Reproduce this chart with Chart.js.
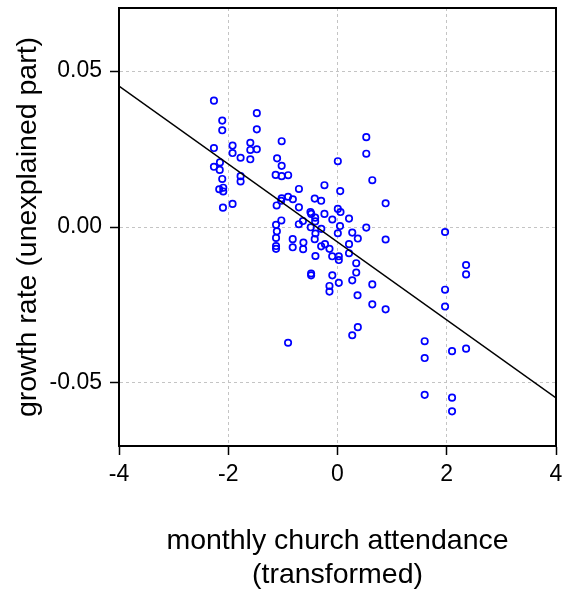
<!DOCTYPE html>
<html>
<head>
<meta charset="utf-8">
<script src="https://cdn.jsdelivr.net/npm/chart.js@4/dist/chart.umd.min.js"></script>
<style>
  html, body { margin: 0; padding: 0; background: #ffffff; }
  #wrap { width: 565px; height: 596px; position: relative; }
</style>
</head>
<body>
<div id="wrap"><canvas id="scatterChart"></canvas></div>
<script>

/*=========================================
DATA
=========================================*/

const attendance = [
  -2.262, -2.110, -2.110, -1.477, -1.477, -2.262, -1.921, -1.921, -1.596, -1.596,
  -1.477, -1.596, -1.774, -1.022, -1.106, -1.022, -2.152, -2.262, -2.156, -2.110,
  -1.774, -1.774, -1.132, -1.022, -0.903, -2.165, -2.092, -2.092, -2.097, -1.921,
  -0.706, -0.905, -0.817, -1.022, -1.031, -1.114, -0.706, -1.028,
  0.006, 0.527, 0.527, 0.637, -0.239, 0.050, -0.417, -0.299, 0.881, -0.495,
  -0.481, -0.239, 0.006, 0.055, -0.409, -0.409, -0.633, -0.708, -0.095, 0.211,
  -1.125, -1.110, 0.046, -0.490, -0.297, -0.404, 0.006, 0.527, 0.270, -1.125,
  -0.820, -0.417, -0.624, 0.372, 0.881, -1.125, -1.125, -0.820, -0.629, -0.299,
  -0.229, -0.147, 0.211, -0.404, -0.097, 0.024, 0.024, 0.211, 0.343, 0.343,
  -0.483, -0.483, -0.095, 0.270, 0.637, 0.024, -0.147, -0.147, 0.367, 0.637,
  0.881, 0.372, 0.270, -0.905,
  1.969, 2.354, 2.354, 1.969, 1.969, 1.596, 1.596, 2.097, 2.354, 1.596,
  2.097, 2.097
];

const growthRate = [
  0.0405, 0.0341, 0.0310, 0.0365, 0.0313, 0.0253, 0.0261, 0.0237, 0.0270, 0.0247,
  0.0249, 0.0217, 0.0222, 0.0275, 0.0220, 0.0196, 0.0207, 0.0193, 0.0183, 0.0154,
  0.0163, 0.0146, 0.0167, 0.0163, 0.0166, 0.0121, 0.0126, 0.0114, 0.0062, 0.0074,
  0.0122, 0.0097, 0.0089, 0.0092, 0.0084, 0.0069, 0.0063, 0.0021,
  0.0211, 0.0288, 0.0235, 0.0150, 0.0134, 0.0115, 0.0091, 0.0084, 0.0076, 0.0048,
  0.0042, 0.0042, 0.0058, 0.0048, 0.0030, 0.0018, 0.0019, 0.0009, 0.0024, 0.0027,
  0.0007, -0.0014, 0.0003, -0.0001, -0.0006, -0.0021, -0.0020, -0.0002, -0.0018, -0.0035,
  -0.0039, -0.0039, -0.0050, -0.0037, -0.0040, -0.0061, -0.0070, -0.0065, -0.0071, -0.0062,
  -0.0055, -0.0070, -0.0055, -0.0093, -0.0094, -0.0094, -0.0106, -0.0084, -0.0116, -0.0146,
  -0.0149, -0.0155, -0.0155, -0.0171, -0.0184, -0.0179, -0.0189, -0.0207, -0.0219, -0.0248,
  -0.0264, -0.0321, -0.0347, -0.0371,
  -0.0016, -0.0122, -0.0152, -0.0201, -0.0255, -0.0366, -0.0420, -0.0398, -0.0390, -0.0538,
  -0.0547, -0.0591
];

// fitted line, end points at the x axis limits
const fitX = [-4, 4];
const fitY = [0.0452, -0.0548];

const yTicks = [-0.05, 0, 0.05];

/*=========================================
CHART
=========================================*/

const frame = {
  id: "frame",
  afterDraw(chart) {
    const { ctx, chartArea: a } = chart;
    ctx.save();
    ctx.strokeStyle = "#000000";
    ctx.lineWidth = 2;
    ctx.strokeRect(a.left, a.top, a.right - a.left, a.bottom - a.top);
    ctx.restore();
  }
};

const tickFont = { family: "'Liberation Sans', Arial, sans-serif", size: 23 };
const titleFont = { family: "'Liberation Sans', Arial, sans-serif", size: 28.5 };

new Chart(document.getElementById("scatterChart"), {
  type: "scatter",
  data: {
    datasets: [
      {
        type: "line",
        data: fitX.map((x, i) => ({ x: x, y: fitY[i] })),
        borderColor: "#000000",
        borderWidth: 1.5,
        pointRadius: 0,
        fill: false
      },
      {
        data: attendance.map((x, i) => ({ x: x, y: growthRate[i] })),
        pointRadius: 3.2,
        pointBorderWidth: 1.7,
        borderColor: "#0000ff",
        backgroundColor: "rgba(255,255,255,0)"
      }
    ]
  },
  options: {
    responsive: true,
    maintainAspectRatio: false,
    animation: false,
    layout: { padding: { top: 8, right: 9, left: 0, bottom: 0 } },
    plugins: {
      legend: { display: false },
      tooltip: { enabled: false }
    },
    scales: {
      x: {
        type: "linear",
        min: -4,
        max: 4,
        afterFit: s => { s.height = 150; s.paddingLeft = 0; s.paddingRight = 0; },
        ticks: { stepSize: 2, color: "#000000", font: tickFont, padding: 6, maxRotation: 0 },
        grid: { color: "#c4c4c4", lineWidth: 1, tickColor: "#000000", tickWidth: 1.5, tickLength: 9, tickBorderDash: [] },
        border: { display: true, color: "#000000", width: 2, dash: [3, 3] },
        title: {
          display: true,
          text: ["monthly church attendance", "(transformed)"],
          color: "#000000",
          font: titleFont,
          padding: { top: 0, bottom: 4 }
        }
      },
      y: {
        type: "linear",
        min: -0.0702,
        max: 0.0702,
        afterFit: s => { s.width = 119; s.paddingTop = 0; s.paddingBottom = 0; },
        afterBuildTicks: s => { s.ticks = yTicks.map(v => ({ value: v })); },
        ticks: { color: "#000000", font: tickFont, padding: 8, callback: v => v.toFixed(2) },
        grid: { color: "#c4c4c4", lineWidth: 1, tickColor: "#000000", tickWidth: 1.5, tickLength: 9, tickBorderDash: [] },
        border: { display: true, color: "#000000", width: 2, dash: [3, 3] },
        title: {
          display: true,
          text: "growth rate (unexplained part)",
          color: "#000000",
          font: titleFont,
          padding: { top: 11, bottom: 0 }
        }
      }
    }
  },
  plugins: [frame]
});

</script>
</body>
</html>
